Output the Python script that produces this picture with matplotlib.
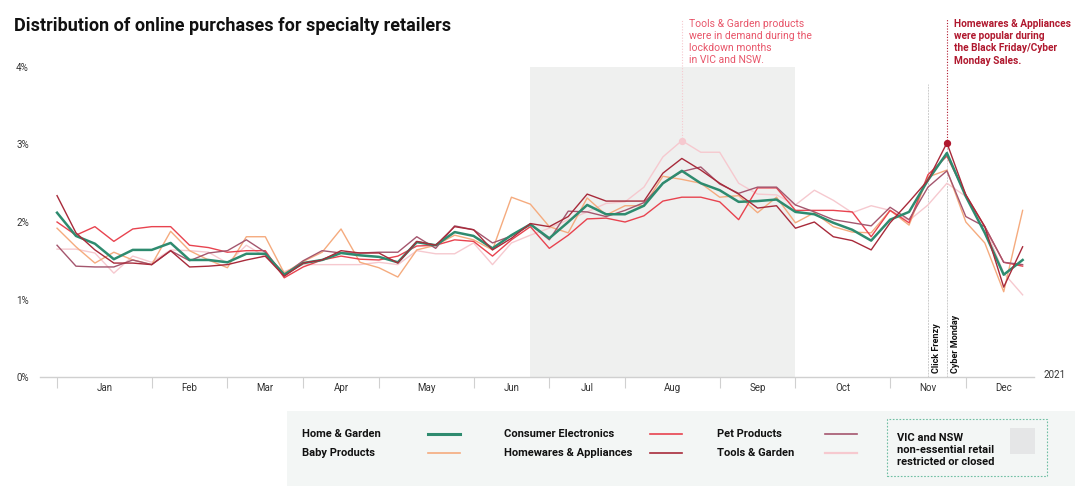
import numpy as np
import matplotlib
matplotlib.use("Agg")
from matplotlib import pyplot as plt
from matplotlib.lines import Line2D
from matplotlib.patches import Rectangle

plt.rcParams['font.family'] = ['Roboto', 'DejaVu Sans']

# weekly share of online purchases (%), 52 weeks of 2020
weeks = np.arange(52)

home_garden = [2.12, 1.82, 1.72, 1.52, 1.64, 1.64, 1.73, 1.51, 1.51, 1.48, 1.59, 1.59,
               1.32, 1.47, 1.51, 1.60, 1.57, 1.55, 1.48, 1.74, 1.70, 1.87, 1.82, 1.66,
               1.83, 1.97, 1.79, 2.00, 2.22, 2.10, 2.10, 2.21, 2.50, 2.66, 2.50, 2.41,
               2.26, 2.27, 2.29, 2.13, 2.10, 1.99, 1.90, 1.76, 2.03, 2.13, 2.54, 2.89,
               2.33, 1.86, 1.32, 1.51]
consumer_elec = [2.00, 1.83, 1.94, 1.75, 1.91, 1.94, 1.94, 1.70, 1.67, 1.61, 1.63, 1.63,
                 1.28, 1.42, 1.51, 1.56, 1.52, 1.51, 1.56, 1.69, 1.70, 1.77, 1.75, 1.56,
                 1.77, 1.94, 1.66, 1.83, 2.04, 2.05, 2.00, 2.08, 2.27, 2.32, 2.32, 2.26,
                 2.03, 2.44, 2.44, 2.15, 2.15, 2.15, 2.13, 1.81, 2.15, 1.99, 2.61, 2.85,
                 2.35, 1.94, 1.48, 1.43]
homewares = [2.34, 1.86, 1.64, 1.47, 1.47, 1.45, 1.63, 1.42, 1.43, 1.45, 1.51, 1.56,
             1.30, 1.47, 1.51, 1.63, 1.60, 1.60, 1.47, 1.75, 1.70, 1.94, 1.90, 1.64,
             1.79, 1.98, 1.94, 2.07, 2.36, 2.27, 2.27, 2.27, 2.63, 2.82, 2.67, 2.50,
             2.36, 2.18, 2.21, 1.92, 2.00, 1.81, 1.76, 1.64, 1.99, 2.26, 2.54, 3.02,
             2.35, 1.94, 1.16, 1.68]
pet = [1.70, 1.43, 1.42, 1.42, 1.51, 1.45, 1.63, 1.50, 1.60, 1.63, 1.77, 1.61,
       1.32, 1.50, 1.63, 1.60, 1.60, 1.61, 1.61, 1.81, 1.66, 1.95, 1.90, 1.73,
       1.82, 1.97, 1.77, 2.14, 2.13, 2.07, 2.15, 2.25, 2.50, 2.65, 2.71, 2.49,
       2.37, 2.45, 2.45, 2.22, 2.13, 2.03, 1.99, 1.95, 2.19, 2.03, 2.45, 2.66,
       2.07, 1.94, 1.48, 1.45]
baby = [1.92, 1.68, 1.47, 1.61, 1.51, 1.45, 1.88, 1.63, 1.51, 1.41, 1.81, 1.81,
        1.34, 1.49, 1.61, 1.91, 1.48, 1.41, 1.29, 1.64, 1.70, 1.83, 1.77, 1.64,
        2.32, 2.23, 1.94, 1.86, 2.31, 2.09, 2.21, 2.21, 2.59, 2.55, 2.50, 2.32,
        2.34, 2.12, 2.32, 1.99, 2.12, 1.94, 1.87, 1.86, 2.15, 1.96, 2.58, 2.67,
        2.00, 1.73, 1.10, 2.15]
tools = [1.65, 1.65, 1.60, 1.34, 1.56, 1.48, 1.64, 1.63, 1.61, 1.47, 1.70, 1.55,
         1.36, 1.45, 1.45, 1.45, 1.45, 1.48, 1.45, 1.63, 1.59, 1.59, 1.73, 1.45,
         1.73, 1.83, 1.92, 2.03, 2.13, 2.24, 2.26, 2.45, 2.84, 3.05, 2.90, 2.90,
         2.50, 2.36, 2.35, 2.22, 2.41, 2.28, 2.12, 2.21, 2.15, 2.02, 2.22, 2.50,
         2.33, 1.94, 1.34, 1.06]

months = ['Jan', 'Feb', 'Mar', 'Apr', 'May', 'Jun', 'Jul', 'Aug', 'Sep', 'Oct', 'Nov', 'Dec']
month_starts = [0, 5, 9, 13, 17, 22, 26, 30, 35, 39, 44, 48, 52]
lockdown = (25, 39)
click_frenzy, cyber_monday = 46, 47
yticks = [0, 1, 2, 3, 4]

c_hg, c_baby = '#2e8b6f', '#f5ab7e'
c_ce, c_hw = '#e8434f', '#a82a3a'
c_pet, c_tools = '#a4566e', '#f6c9cf'

fig = plt.figure(figsize=(10.8, 4.94), dpi=100)
ax = fig.add_axes([40/1080, 1 - 377/494, 994/1080, 310/494])
ax.set_xlim(-0.9, 51.6)
ax.set_ylim(0, 4)

ax.axvspan(lockdown[0], lockdown[1], color='#eff0ef', lw=0, zorder=0)

ax.plot(weeks, tools, c=c_tools, lw=1.0, zorder=2)
ax.plot(weeks, baby, c=c_baby, lw=1.0, zorder=3)
ax.plot(weeks, consumer_elec, c=c_ce, lw=1.0, zorder=4)
ax.plot(weeks, pet, c=c_pet, lw=1.0, zorder=4)
ax.plot(weeks, home_garden, c=c_hg, lw=1.8, zorder=5)
ax.plot(weeks, homewares, c=c_hw, lw=1.0, zorder=6)

# event lines
ax.plot([click_frenzy, click_frenzy], [0, 3.78], c='#cccccc', lw=0.7, ls=(0, (2, 1)), zorder=1)
ax.plot([cyber_monday, cyber_monday], [0, homewares[cyber_monday]], c='#cccccc', lw=0.7,
        ls=(0, (2, 1)), zorder=1)
for wk, lab in [(click_frenzy, 'Click Frenzy'), (cyber_monday, 'Cyber Monday')]:
    ax.text(wk + 0.2, 0.05, lab, rotation=90, ha='left', va='bottom', fontsize=6.5,
            fontweight='bold', color='#111111')

# annotations
t_wk = int(np.argmax(tools))
ax.plot([t_wk, t_wk], [tools[t_wk], 4.62], c=c_tools, lw=0.8, ls=(0, (1, 1.5)),
        clip_on=False, zorder=7)
ax.scatter([t_wk], [tools[t_wk]], s=18, c=c_tools, zorder=8, clip_on=False)
ax.text(t_wk + 0.4, 4.62, 'Tools & Garden products\nwere in demand during the\n'
        'lockdown months\nin VIC and NSW.', ha='left', va='top', fontsize=7.5,
        color='#e8566a', linespacing=1.25)

h_wk = int(np.argmax(homewares))
ax.plot([h_wk, h_wk], [homewares[h_wk], 4.62], c='#b0182e', lw=0.8, ls=(0, (1, 1.5)),
        clip_on=False, zorder=7)
ax.scatter([h_wk], [homewares[h_wk]], s=18, c='#b0182e', zorder=8, clip_on=False)
ax.text(h_wk + 0.4, 4.62, 'Homewares & Appliances\nwere popular during\n'
        'the Black Friday/Cyber\nMonday Sales.', ha='left', va='top', fontsize=7.3,
        color='#b0182e', fontweight='bold', linespacing=1.28)

# axes styling
for s in ['top', 'right', 'left']:
    ax.spines[s].set_visible(False)
ax.spines['bottom'].set_color('#d0d0d0')
ax.spines['bottom'].set_linewidth(1.0)

ax.set_yticks(yticks)
ax.set_yticklabels([f'{v}%' for v in yticks], fontsize=7, color='#333333')
ax.tick_params(axis='y', length=0, pad=8)

ax.set_xticks(month_starts[:-1])
ax.set_xticklabels([])
ax.tick_params(axis='x', which='major', length=8, color='#d0d0d0', width=0.8)
mids = [(a + b) / 2 for a, b in zip(month_starts[:-1], month_starts[1:])]
ax.set_xticks(mids, minor=True)
ax.set_xticklabels(months, minor=True, fontsize=7, color='#333333')
ax.tick_params(axis='x', which='minor', length=0, pad=4)
ax.text(51.6 + 0.5, 0.02, '2021', ha='left', va='center', fontsize=7, color='#333333')

fig.text(14/1080, 1 - 26/494, 'Distribution of online purchases for specialty retailers',
         fontsize=13, fontweight='semibold', color='#111111', va='center', ha='left')

# legend panel
fig.patches.append(Rectangle((287/1080, 1 - 486/494), 788/1080, 75/494,
                             transform=fig.transFigure, fc='#f3f6f5', ec='none', zorder=0))
entries = [('Home & Garden', c_hg, 2.2, 302, 428, 434),
           ('Baby Products', c_baby, 1.2, 302, 428, 453),
           ('Consumer Electronics', c_ce, 1.2, 504, 650, 434),
           ('Homewares & Appliances', c_hw, 1.2, 504, 650, 453),
           ('Pet Products', c_pet, 1.2, 717, 825, 434),
           ('Tools & Garden', c_tools, 1.6, 717, 825, 453)]
for lab, col, lw, tx, lx, ly in entries:
    fig.text(tx/1080, 1 - ly/494, lab, fontsize=8, fontweight='bold', color='#111111',
             va='center', ha='left')
    fig.lines.append(Line2D([lx/1080, (lx + 32)/1080], [1 - ly/494, 1 - ly/494],
                            transform=fig.transFigure, c=col, lw=lw))
fig.patches.append(Rectangle((887/1080, 1 - 476/494), 160/1080, 57/494,
                             transform=fig.transFigure, fc='none', ec='#6fbfa3',
                             lw=0.8, ls=(0, (1.5, 1.5))))
fig.patches.append(Rectangle((1010/1080, 1 - 454/494), 25/1080, 26/494,
                             transform=fig.transFigure, fc='#e5e6e7', ec='none'))
fig.text(897/1080, 1 - 450/494, 'VIC and NSW\nnon-essential retail\nrestricted or closed',
         fontsize=8, fontweight='bold', color='#111111', va='center', ha='left',
         linespacing=1.25)

fig.savefig('out.png', dpi=100, facecolor='white')
